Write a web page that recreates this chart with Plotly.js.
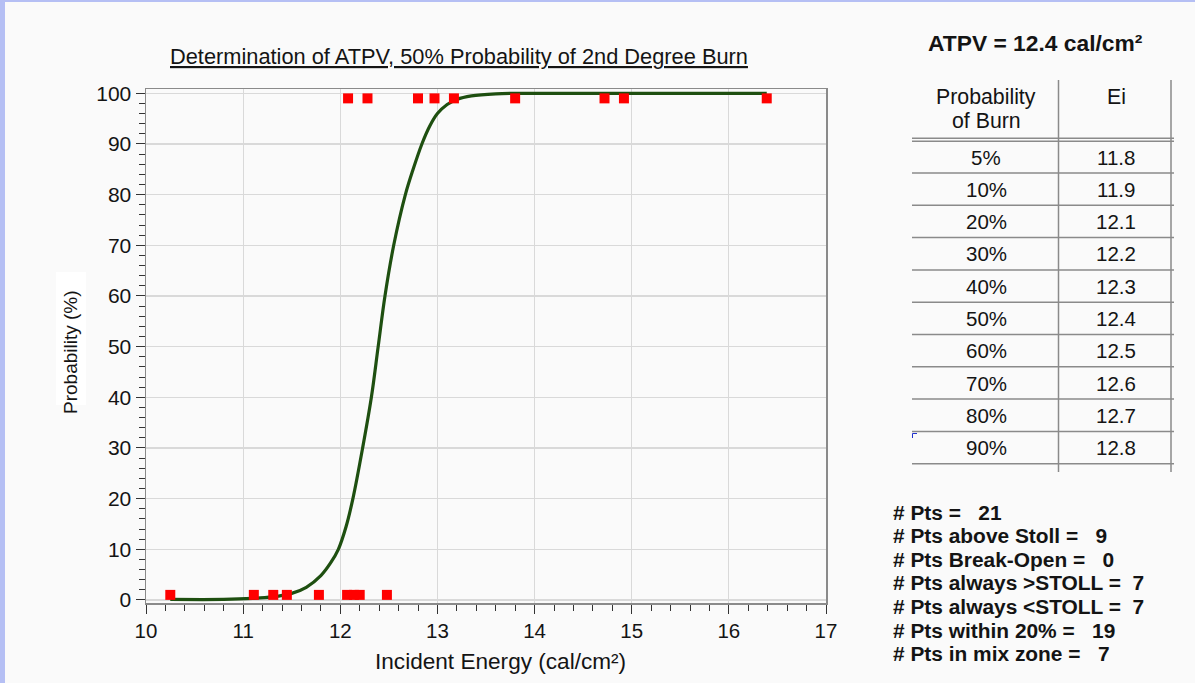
<!DOCTYPE html>
<html>
<head>
<meta charset="utf-8">
<script src="https://cdn.plot.ly/plotly-3.0.1.min.js"></script>
<style>
  html, body { margin: 0; padding: 0; width: 1195px; height: 683px; overflow: hidden; background: #b5bff4; }
  #chart { position: absolute; left: 5px; top: 2px; width: 1190px; height: 681px; }
</style>
</head>
<body>
<div id="chart"></div>
<script>
// ---------------- data ----------------
const chartTitle = "Determination of ATPV, 50% Probability of 2nd Degree Burn";
const xAxisTitle = "Incident Energy (cal/cm²)";
const yAxisTitle = "Probability (%)";

// specimens that did not reach Stoll (plotted at bottom)
const belowX = [10.25, 11.11, 11.31, 11.45, 11.78, 12.07, 12.14, 12.20, 12.48];
const belowY = [1, 1, 1, 1, 1, 1, 1, 1, 1];
// specimens above Stoll (plotted at top)
const aboveX = [12.08, 12.28, 12.80, 12.97, 13.17, 13.80, 14.72, 14.92, 16.39];
const aboveY = [99, 99, 99, 99, 99, 99, 99, 99, 99];

// fitted probability curve
const curveX = [10.25, 10.8, 11.1, 11.3, 11.5, 11.65, 11.8, 11.9, 11.98, 12.06, 12.13, 12.23, 12.32, 12.39, 12.46, 12.55, 12.67, 12.75, 12.84, 12.92, 13.0, 13.1, 13.2, 13.35, 13.6, 14.0, 16.39];
const curveY = [0.1, 0.1, 0.3, 0.6, 1.3, 2.5, 4.8, 7.3, 10, 14.5, 20, 30, 40, 50, 60, 70, 80, 85, 90, 93.5, 96, 97.8, 98.8, 99.5, 99.9, 100, 100];

const atpvTitle = "ATPV = 12.4 cal/cm²";
const tableHeaders = [["Probability", "of Burn"], ["Ei"]];
const probLevels = ["5%", "10%", "20%", "30%", "40%", "50%", "60%", "70%", "80%", "90%"];
const eiValues = ["11.8", "11.9", "12.1", "12.2", "12.3", "12.4", "12.5", "12.6", "12.7", "12.8"];

const statLabels = ["# Pts =", "# Pts above Stoll =", "# Pts Break-Open =", "# Pts always &gt;STOLL =", "# Pts always &lt;STOLL =", "# Pts within 20% =", "# Pts in mix zone ="];
const statValues = ["21", "9", "0", "7", "7", "19", "7"];
const statGaps = [3, 3, 3, 2, 2, 3, 3];

// ---------------- layout helpers ----------------
const W = 1190, H = 681, OX = 5, OY = 2;
const M = { l: 141, r: 369, t: 87, b: 80 };
const PW = W - M.l - M.r, PH = H - M.t - M.b;
const px = x => (x - OX - M.l) / PW;          // page px -> paper x
const py = y => (H - M.b - (y - OY)) / PH;    // page px -> paper y

const FONT = "Liberation Sans, Arial, sans-serif";
const TXT = "#141414";

const annotations = [];
const shapes = [];
function label(x, y, text, size, opts) {
  annotations.push(Object.assign({
    xref: "paper", yref: "paper", x: px(x), y: py(y), xanchor: "center", yanchor: "middle",
    text: text, showarrow: false, font: { family: FONT, size: size, color: TXT }
  }, opts || {}));
}

// chart title (underlined)
label(458.5, 56, "<u>" + chartTitle + "</u>", 21.8);
// axis titles
label(500.5, 661, xAxisTitle, 22.6);
label(70, 352, yAxisTitle, 19, { textangle: -90 });
// white box behind y title
shapes.push({ type: "rect", xref: "paper", yref: "paper", x0: px(56), x1: px(86), y0: py(272), y1: py(405),
  line: { width: 0 }, fillcolor: "#ffffff", layer: "below" });

// ATPV heading
label(1035, 43, "<b>" + atpvTitle + "</b>", 22.8);

// table
const col1 = 986, col2 = 1116;
label(col1, 97, tableHeaders[0][0], 21.3);
label(col1, 121, tableHeaders[0][1], 21.3);
label(col2, 97, tableHeaders[1][0], 21.3);
const rowStep = 32.3, row0 = 157;
probLevels.forEach((p, i) => {
  const yy = row0 + i * rowStep;
  label(col1, yy, p, 20.5);
  label(col2, yy, eiValues[i], 20.5);
});
const lineC = "#8a8a8a";
function hline(y, x0, x1) {
  shapes.push({ type: "line", xref: "paper", yref: "paper", x0: px(x0), x1: px(x1), y0: py(y), y1: py(y),
    line: { color: lineC, width: 1.5 } });
}
function vline(x, y0, y1) {
  shapes.push({ type: "line", xref: "paper", yref: "paper", x0: px(x), x1: px(x), y0: py(y0), y1: py(y1),
    line: { color: lineC, width: 1.5 } });
}
hline(138.3, 912, 1174);
hline(141.2, 912, 1174);
for (let i = 1; i <= probLevels.length; i++) hline(141 + i * rowStep - 0.3, 912, 1174);
vline(1058.5, 80, 472);
vline(1171, 80, 472);
// tiny blue corner mark
shapes.push({ type: "path", xref: "paper", yref: "paper",
  path: `M ${px(912.5)} ${py(438)} L ${px(912.5)} ${py(433.5)} L ${px(917)} ${py(433.5)}`,
  line: { color: "#2233cc", width: 1 } });

// stats block
statLabels.forEach((s, i) => {
  label(891, 512 + i * 23.6, "<b>" + s + "\u00A0".repeat(statGaps[i]) + statValues[i] + "</b>", 20.9,
    { xanchor: "left", align: "left" });
});

// ---------------- traces ----------------
const traces = [
  { x: curveX, y: curveY, type: "scatter", mode: "lines",
    line: { color: "#1e4f10", width: 3.2, shape: "spline", smoothing: 1 }, hoverinfo: "skip" },
  { x: belowX, y: belowY, type: "scatter", mode: "markers", marker: { symbol: "square", size: 10, color: "#ff0000" } },
  { x: aboveX, y: aboveY, type: "scatter", mode: "markers", marker: { symbol: "square", size: 10, color: "#ff0000" } }
];

const layout = {
  width: W, height: H,
  margin: M,
  paper_bgcolor: "#fafafa",
  plot_bgcolor: "#fafafa",
  showlegend: false,
  font: { family: FONT, color: TXT },
  xaxis: {
    range: [10, 17], tickmode: "linear", tick0: 10, dtick: 1,
    ticks: "outside", ticklen: 9, tickwidth: 1, tickcolor: "#333",
    minor: { dtick: 0.2, ticks: "outside", ticklen: 6, tickwidth: 1, tickcolor: "#333", showgrid: false },
    showgrid: true, gridcolor: "#d9d9d9", gridwidth: 1.2,
    showline: true, linecolor: lineC, linewidth: 1.5, mirror: true,
    zeroline: false, tickfont: { family: FONT, size: 20.5, color: TXT }
  },
  yaxis: {
    range: [-0.6, 100.85], tickmode: "linear", tick0: 0, dtick: 10,
    ticks: "outside", ticklen: 9, tickwidth: 1, tickcolor: "#333",
    minor: { dtick: 2, ticks: "outside", ticklen: 6, tickwidth: 1, tickcolor: "#333", showgrid: false },
    showgrid: true, gridcolor: "#d9d9d9", gridwidth: 1.2,
    showline: true, linecolor: lineC, linewidth: 1.5, mirror: true,
    zeroline: false, tickfont: { family: FONT, size: 21, color: TXT }, ticklabelstandoff: 0
  },
  annotations: annotations,
  shapes: shapes
};

Plotly.newPlot("chart", traces, layout, { displayModeBar: false, staticPlot: true });
</script>
</body>
</html>
